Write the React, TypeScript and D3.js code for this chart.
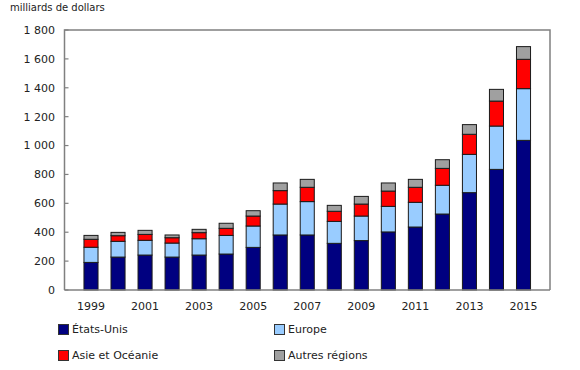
import React from "react";
import * as d3 from "d3";

const years = ["1999","2000","2001","2002","2003","2004","2005","2006","2007","2008","2009","2010","2011","2012","2013","2014","2015"];
const etatsUnis = [191,228,242,228,242,249,295,381,381,323,342,402,436,526,674,835,1036];
const europe = [105,109,102,97,113,129,148,214,231,152,170,177,171,199,265,300,358];
const asieOceanie = [55,39,41,37,42,49,69,93,99,70,83,106,104,117,139,173,203];
const autres = [27,23,28,19,23,35,37,53,55,41,53,56,55,60,67,81,88];
const seriesNames = ["États-Unis","Europe","Asie et Océanie","Autres régions"];
const seriesColors = ["#000080","#99ccff","#ff0000","#a0a0a0"];
const yTicks = [0,200,400,600,800,1000,1200,1400,1600,1800];
const xLabelYears = ["1999","2001","2003","2005","2007","2009","2011","2013","2015"];
const unitLabel = "milliards de dollars";

const W = 580, H = 370;
const left = 64.5, right = 550, top = 30, bottom = 290;
const FONT = "DejaVu Sans, Verdana, sans-serif";

export default function App() {
  const data = years.map((y, i) => ({
    year: y,
    s0: etatsUnis[i], s1: europe[i], s2: asieOceanie[i], s3: autres[i],
  }));
  const keys = ["s0","s1","s2","s3"];
  const stacked = d3.stack<any>().keys(keys)(data);
  const x = d3.scaleBand().domain(years).range([left, right]).paddingInner(0.48).paddingOuter(0.72);
  const y = d3.scaleLinear().domain([0, 1800]).range([bottom, top]);
  const fmt = (v: number) => d3.format(",")(v).replace(/,/g, "\u00a0");

  const legendPos = [
    { x: 58, y: 329.5 }, { x: 274, y: 329.5 },
    { x: 58, y: 355.5 }, { x: 274, y: 355.5 },
  ];

  return (
    <svg width={W} height={H} style={{ position: "absolute", left: 0, top: 0 }} fontFamily={FONT}>
      <rect width={W} height={H} fill="#fff" />
      <text x={10} y={11} fontSize={10} fill="#222">{unitLabel}</text>
      {/* frame */}
      <path d={`M${left},${y(0)}V${top}H${right}V${y(0)}`} fill="none" stroke="#808080" strokeWidth={1.5} />
      {yTicks.map((t) => (
        <g key={t}>
          <line x1={left} x2={left + 4} y1={y(t)} y2={y(t)} stroke="#808080" strokeWidth={1.2} />
          <text x={55} y={y(t)} dy="0.35em" textAnchor="end" fontSize={11} fill="#222">{fmt(t)}</text>
        </g>
      ))}
      {stacked.map((layer, li) => (
        <g key={li} fill={seriesColors[li]}>
          {layer.map((d: any, i: number) => (
            <rect key={i}
              x={x(years[i])!}
              y={y(d[1])}
              width={x.bandwidth()}
              height={y(d[0]) - y(d[1])}
              stroke="#1a1a1a" strokeWidth={1} />
          ))}
        </g>
      ))}
      <line x1={left} x2={right} y1={y(0)} y2={y(0)} stroke="#808080" strokeWidth={1.5} />
      {xLabelYears.map((yr) => (
        <text key={yr} x={x(yr)! + x.bandwidth() / 2} y={310} textAnchor="middle" fontSize={11} fill="#222">{yr}</text>
      ))}
      {seriesNames.map((n, i) => (
        <g key={n} transform={`translate(${legendPos[i].x},${legendPos[i].y})`}>
          <rect x={0.5} y={-5} width={10} height={10} fill={seriesColors[i]} stroke="#333" strokeWidth={1} />
          <text x={14} y={0} dy="0.35em" fontSize={11} fill="#222">{n}</text>
        </g>
      ))}
    </svg>
  );
}
